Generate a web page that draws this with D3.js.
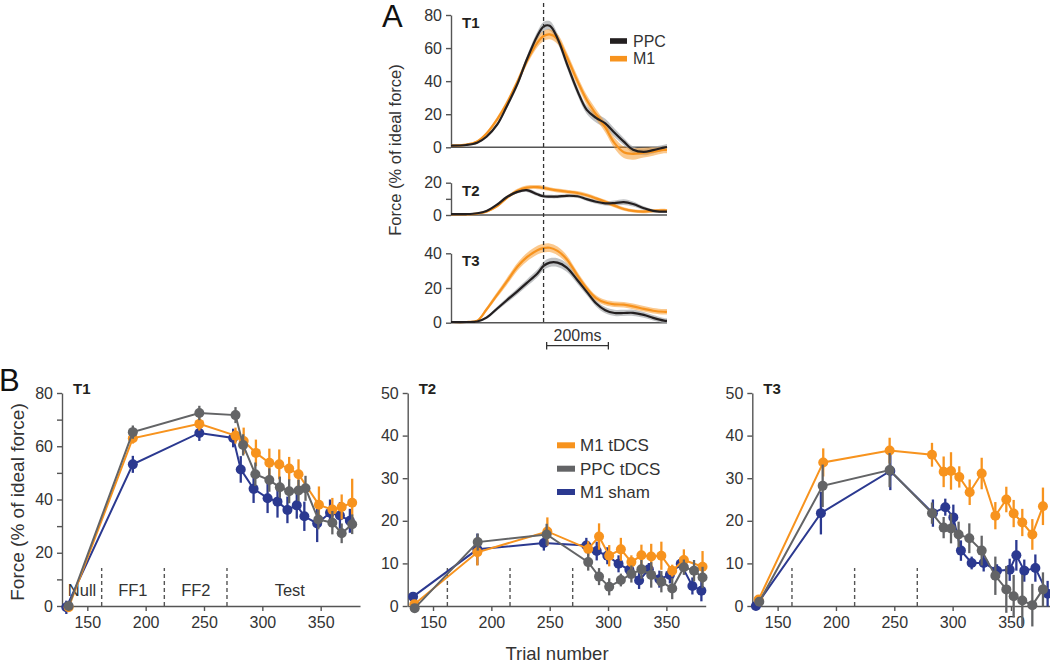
<!DOCTYPE html>
<html><head><meta charset="utf-8">
<script src="https://cdn.jsdelivr.net/npm/d3@7"></script>
<style>
html,body{margin:0;padding:0;background:#fff;}
svg{display:block;font-family:"Liberation Sans",Arial,Helvetica,sans-serif;}
</style></head>
<body>
<svg id="chart" width="1050" height="662"></svg>
<script>
// ---------- Panel A data (time in ms relative to dashed line, force % of ideal) ----------
const timeA = [-300,-250,-215,-185,-150,-120,-85,-55,-20,0,20,45,75,110,140,170,200,230,260,290,325,355,390,400];
const aT1PPC   = [1.0,1.4,2.8,6.4,13.8,24.5,38.2,52.8,67.5,73.0,73.5,66.0,50.8,34.0,22.6,17.8,14.5,8.8,3.4,-1.5,-2.8,-1.7,-0.2,0.2];
const aT1PPCse = [0.5,0.5,0.6,0.8,1.0,1.5,1.8,2.0,2.5,2.8,2.8,2.8,2.5,2.5,2.5,2.8,2.8,2.5,2.2,2.0,2.0,2.0,1.8,1.8];
const aT1M1    = [1.0,1.6,3.5,8.3,17.0,26.3,39.5,51.8,63.3,67.3,68.3,65.5,54.8,40.0,28.6,20.0,12.0,2.5,-3.0,-4.0,-3.2,-2.6,-1.6,-1.6];
const aT1M1se  = [0.5,0.5,0.8,1.0,1.5,1.8,2.0,2.3,2.8,3.0,3.0,3.0,3.0,3.0,3.0,3.0,3.0,3.2,3.5,3.5,3.0,2.5,2.0,2.0];
const aT2PPC   = [0.6,0.6,1.1,2.5,6.5,11.0,14.3,15.4,12.8,11.6,11.4,11.4,11.9,11.6,9.8,8.2,7.2,7.4,8.0,6.8,4.2,2.6,2.1,2.1];
const aT2PPCse = [0.4,0.4,0.4,0.5,0.7,0.9,1.0,1.1,1.1,1.1,1.1,1.1,1.1,1.1,1.1,1.2,1.3,1.6,1.8,1.6,1.2,1.0,0.9,0.9];
const aT2M1    = [0.4,0.4,0.9,2.1,5.5,10.5,15.0,17.0,17.3,16.8,16.0,15.2,14.5,13.6,12.2,10.3,8.2,5.8,3.7,2.5,2.1,2.6,2.9,2.7];
const aT2M1se  = [0.4,0.4,0.4,0.5,0.7,1.0,1.2,1.3,1.3,1.3,1.2,1.2,1.2,1.2,1.2,1.2,1.2,1.2,1.1,1.0,1.0,1.0,1.0,1.0];
const aT3PPC   = [0.4,0.4,0.7,2.9,8.2,12.8,18.1,22.8,28.4,32.7,34.6,34.6,31.8,24.5,17.8,11.2,7.2,5.6,5.6,5.7,4.5,2.8,1.2,1.0];
const aT3PPCse = [0.4,0.4,0.5,0.8,1.2,1.5,1.8,2.0,2.2,2.4,2.5,2.5,2.5,2.2,2.0,1.8,1.8,1.8,1.8,1.8,1.7,1.6,1.5,1.5];
const aT3M1    = [0.4,0.4,1.1,7.6,16.2,23.5,32.2,37.6,41.8,43.0,43.2,41.4,36.6,27.2,19.8,14.2,11.6,10.6,10.4,9.4,8.0,6.9,6.3,6.3];
const aT3M1se  = [0.4,0.4,0.6,1.2,1.6,2.0,2.2,2.4,2.5,2.5,2.5,2.5,2.3,2.0,1.8,1.6,1.6,1.6,1.6,1.6,1.6,1.6,1.6,1.6];
const aTicksT1 = [0,20,40,60,80];
const aTicksT2 = [0,10,20];
const aTicksT3 = [0,20,40];
const aLegend  = ["PPC","M1"];

// ---------- Panel B data: [trial number, mean force %, error] ----------
const bT1M1tDCS  = [[134,-0.5,0.8],[189,63,2],[246,68.4,2.5],[277,64,3],[284,62,5],[294.5,57.5,5],[306,53.8,5.3],[314.5,53.2,5.6],[323,51.6,4.4],[331,49.5,5.6],[348.5,38,6.9],[360,36.2,4.4],[368,37.2,4.7],[377,38.8,9]];
const bT1PPCtDCS = [[134,0,0.8],[189,65.3,2.5],[246,72.5,2.7],[277,71.7,3],[283.5,60.5,4],[294,49.5,4.4],[306,47.3,4.4],[315,44.6,4],[323,43.1,4.5],[331,43.4,4],[337,44.2,4.7],[348,32.5,3.7],[360,31.3,4.4],[368,27.3,3.7],[377,30.7,3.7]];
const bT1M1sham  = [[132,-0.5,2.5],[189,53.2,3.2],[246,65,3],[275,63.1,3.5],[281.5,51.3,5],[292.5,44,5.3],[304.5,40.5,5.6],[313,39.2,6],[321.5,36.1,5],[329.5,37.8,5],[336,33.7,5.5],[347,31,7],[358,35,5],[366.5,34,5],[375,32,4.5]];

const bT2M1tDCS  = [[134,0.4,0.8],[188,12.6,3.1],[248,17.5,3.3],[283,13.4,1.8],[292.3,16.3,3.1],[301,11.8,2.5],[311,13.3,2.7],[320,10.3,1.6],[328.6,11.9,2.5],[337,11.6,3],[345.7,11.8,3.3],[355,8.3,1.4],[365,10.8,2.5],[381,9.2,3.7]];
const bT2PPCtDCS = [[134.3,-0.5,0.8],[188.3,15,2],[247.4,16.8,2.5],[283,10.3,2],[292.3,6.9,2],[301,4.5,2],[311,6.1,1.5],[320,7.5,2],[328.6,8.6,2.2],[337,7.3,3],[345.7,5.7,2.5],[355,4.1,2.5],[365,9.1,1.8],[373.7,8.3,2.5],[381,6.7,2.5]];
const bT2M1sham  = [[132.9,2.2,0.8],[188,13.3,3.7],[245,14.8,1.8],[281.4,14.2,1.8],[290.3,12.9,2.2],[299.4,11.8,2],[309,9.9,2],[318.3,8.5,2],[326.6,6,2],[335,8.6,1.5],[344,6.3,2],[353,7.3,2],[362.3,9.9,1.5],[372.3,4.7,2],[380,3.6,2.5]];

const bT3M1tDCS  = [[133.7,1.5,0.8],[189.1,33.7,3.3],[246,36.5,3],[282.3,35.5,2.8],[292.3,31.5,3.6],[298.6,31.7,4.4],[305.7,30.3,2.5],[314.6,26.7,3],[324.9,31.1,3.7],[336.6,21.2,3.2],[346,25,3],[352.3,21.7,3.2],[359.7,19.6,3.2],[368.3,16.8,3.6],[377.4,23.4,4.4]];
const bT3PPCtDCS = [[134.3,1,0.8],[188.6,28.2,5],[246,31.9,4],[282.3,21.8,2.5],[292.3,18.4,2.5],[298.6,18.2,3.5],[305.1,16.8,3],[314.3,15.9,3.5],[324.9,13,3.5],[336.6,7.1,4.5],[346,3.9,5.5],[352.3,2.3,5],[359.7,1.3,6],[368.3,0.2,5],[377.4,3.9,4]];
const bT3M1sham  = [[131.4,0,0.8],[187.1,21.8,5],[246.6,31.7,4.5],[283.1,21.8,3.2],[293.7,23.2,2],[300.6,20.8,3],[307.1,13,2.4],[316.3,10.1,1.5],[326.6,10.1,2],[338,8.3,1.5],[348.9,8.5,2.6],[354.6,11.9,3.6],[361.4,8.3,2.6],[370.9,8.9,3.2],[381.4,2.9,3]];

const phaseBounds = [162.3,216,269.7];
const phaseLabels = [["Null",145.5],["FF1",189],["FF2",243],["Test",323.5]];
const bXTicks = [150,200,250,300,350];
const bYTicksT1 = [0,10,20,30,40,50,60,70,80];
const bYTicksT23 = [0,10,20,30,40,50];
const bLegend = ["M1 tDCS","PPC tDCS","M1 sham"];

// ---------- styles ----------
const C_OR = "#f7931e", C_GR = "#636466", C_BL = "#2b3990", C_BK = "#231f20";
const AX = "#555", TXT = "#333";

const svg = d3.select("#chart");

function styleAxis(g){
  g.selectAll(".domain").attr("stroke",AX).attr("stroke-width",1.4);
  g.selectAll(".tick line").attr("stroke",AX).attr("stroke-width",1.4);
  g.selectAll(".tick text").attr("fill",TXT).style("font-size","16px").style("font-family","Liberation Sans, Arial, sans-serif");
}

// ================= Panel A =================
const xA = d3.scaleLinear().domain([-300,400]).range([451,667]);
const subA = [
  {name:"T1", dom:[0,80], rng:[147.3,15], ticks:aTicksT1, lab:[0,20,40,60,80], ppc:aT1PPC, ppcse:aT1PPCse, m1:aT1M1, m1se:aT1M1se},
  {name:"T2", dom:[0,20], rng:[215,182.7], ticks:aTicksT2, lab:[0,20], ppc:aT2PPC, ppcse:aT2PPCse, m1:aT2M1, m1se:aT2M1se},
  {name:"T3", dom:[0,40], rng:[322.7,253.3], ticks:aTicksT3, lab:[0,20,40], ppc:aT3PPC, ppcse:aT3PPCse, m1:aT3M1, m1se:aT3M1se}
];
const gA = svg.append("g");
subA.forEach(s=>{
  const y = d3.scaleLinear().domain(s.dom).range(s.rng);
  const area = (m,se)=>d3.area().curve(d3.curveCatmullRom.alpha(0.5))
      .x((d,i)=>xA(timeA[i])).y0((d,i)=>y(m[i]-se[i])).y1((d,i)=>y(m[i]+se[i]))(timeA);
  const line = (m)=>d3.line().curve(d3.curveCatmullRom.alpha(0.5))
      .x((d,i)=>xA(timeA[i])).y((d,i)=>y(m[i]))(timeA);
  // axes
  gA.append("g").attr("transform",`translate(451,0)`)
    .call(d3.axisLeft(y).tickValues(s.ticks).tickSize(5).tickSizeOuter(0).tickPadding(4)
      .tickFormat(d=>s.lab.includes(d)?d:""))
    .call(styleAxis);
  gA.append("line").attr("x1",451).attr("x2",667).attr("y1",y(0)).attr("y2",y(0))
    .attr("stroke",AX).attr("stroke-width",1.4);
  gA.append("path").attr("d",area(s.ppc,s.ppcse)).attr("fill","#a7a9ac").attr("fill-opacity",0.7);
  gA.append("path").attr("d",area(s.m1,s.m1se)).attr("fill",C_OR).attr("fill-opacity",0.5);
  gA.append("path").attr("d",line(s.m1)).attr("fill","none").attr("stroke",C_OR).attr("stroke-width",2.2);
  gA.append("path").attr("d",line(s.ppc)).attr("fill","none").attr("stroke",C_BK).attr("stroke-width",2.2);
  gA.append("text").attr("x",462).attr("y",s.rng[1]+13).text(s.name)
    .attr("font-weight","bold").attr("font-size",15).attr("fill",C_BK);
});
// dashed reference line
gA.append("line").attr("x1",xA(0)).attr("x2",xA(0)).attr("y1",3).attr("y2",325)
  .attr("stroke","#333").attr("stroke-width",1.3).attr("stroke-dasharray","4,3");
// scale bar 200 ms
const sb0 = xA(10), sb1 = xA(210);
gA.append("line").attr("x1",sb0).attr("x2",sb1).attr("y1",345.7).attr("y2",345.7).attr("stroke","#333").attr("stroke-width",1.3);
[sb0,sb1].forEach(x=>gA.append("line").attr("x1",x).attr("x2",x).attr("y1",342).attr("y2",349.5).attr("stroke","#333").attr("stroke-width",1.3));
gA.append("text").attr("x",(sb0+sb1)/2).attr("y",340.5).attr("text-anchor","middle")
  .attr("font-size",16).attr("fill",TXT).text("200ms");
// legend A
[[aLegend[0],C_BK,41],[aLegend[1],C_OR,58.7]].forEach(([t,c,yy])=>{
  gA.append("rect").attr("x",610).attr("y",yy-2.8).attr("width",17).attr("height",5.6).attr("fill",c);
  gA.append("text").attr("x",633).attr("y",yy+5.5).attr("font-size",16).attr("fill",TXT).text(t);
});
// y label A
gA.append("text").attr("transform","translate(401,150) rotate(-90)").attr("text-anchor","middle")
  .attr("font-size",16.5).attr("fill",TXT).text("Force (% of ideal force)");
svg.append("text").attr("x",382).attr("y",27).attr("font-size",31).attr("fill","#111").text("A");

// ================= Panel B =================
const panelsB = [
  {name:"T1", x0:62, dom:[0,80], ticks:bYTicksT1, lab:[0,20,40,60,80], series:[bT1M1sham,bT1M1tDCS,bT1PPCtDCS]},
  {name:"T2", x0:407.7, dom:[0,50], ticks:bYTicksT23, lab:bYTicksT23, series:[bT2M1sham,bT2M1tDCS,bT2PPCtDCS]},
  {name:"T3", x0:752.3, dom:[0,50], ticks:bYTicksT23, lab:bYTicksT23, series:[bT3M1sham,bT3M1tDCS,bT3PPCtDCS]}
];
const colsB = [C_BL, C_OR, C_GR];
panelsB.forEach((p,pi)=>{
  const g = svg.append("g");
  const x = d3.scaleLinear().domain([128.3,383.7]).range([p.x0,p.x0+298]);
  const y = d3.scaleLinear().domain(p.dom).range([606,393]);
  g.append("g").attr("transform",`translate(${p.x0},0)`)
    .call(d3.axisLeft(y).tickValues(p.ticks).tickSize(5).tickSizeOuter(0).tickPadding(4)
      .tickFormat(d=>p.lab.includes(d)?d:""))
    .call(styleAxis);
  g.append("g").attr("transform",`translate(0,606)`)
    .call(d3.axisBottom(x).tickValues(bXTicks).tickSize(5).tickSizeOuter(0).tickPadding(6))
    .call(styleAxis);
  // phase dividers
  phaseBounds.forEach(b=>{
    g.append("line").attr("x1",x(b)).attr("x2",x(b)).attr("y1",606).attr("y2",568)
      .attr("stroke","#555").attr("stroke-width",1.4).attr("stroke-dasharray","4,3");
  });
  if(pi===0){
    phaseLabels.forEach(([t,v])=>{
      g.append("text").attr("x",x(v)).attr("y",596).attr("text-anchor","middle")
        .attr("font-size",16.5).attr("fill",TXT).text(t);
    });
  }
  // series
  p.series.forEach((s,si)=>{
    const c = colsB[si];
    g.append("path").attr("d",d3.line().x(d=>x(d[0])).y(d=>y(d[1]))(s))
      .attr("fill","none").attr("stroke",c).attr("stroke-width",2);
    g.selectAll(null).data(s).enter().append("line")
      .attr("x1",d=>x(d[0])).attr("x2",d=>x(d[0]))
      .attr("y1",d=>y(d[1]-d[2])).attr("y2",d=>y(d[1]+d[2]))
      .attr("stroke",c).attr("stroke-width",2.3);
    g.selectAll(null).data(s).enter().append("circle")
      .attr("cx",d=>x(d[0])).attr("cy",d=>y(d[1])).attr("r",5).attr("fill",c);
  });
  g.append("text").attr("x",p.x0+11).attr("y",394).text(p.name)
    .attr("font-weight","bold").attr("font-size",15).attr("fill",C_BK);
});
// legend B
[[bLegend[0],C_OR,445.3],[bLegend[1],C_GR,468.7],[bLegend[2],C_BL,492]].forEach(([t,c,yy])=>{
  svg.append("rect").attr("x",557).attr("y",yy-3).attr("width",18).attr("height",6).attr("fill",c);
  svg.append("text").attr("x",580).attr("y",yy+6).attr("font-size",17).attr("fill",TXT).text(t);
});
svg.append("text").attr("x",557).attr("y",659.5).attr("text-anchor","middle")
  .attr("font-size",18.5).attr("fill",TXT).text("Trial number");
svg.append("text").attr("transform","translate(24,502) rotate(-90)").attr("text-anchor","middle")
  .attr("font-size",19).attr("fill",TXT).text("Force (% of ideal force)");
svg.append("text").attr("x",-1).attr("y",391).attr("font-size",31).attr("fill","#111").text("B");
</script>
</body></html>
